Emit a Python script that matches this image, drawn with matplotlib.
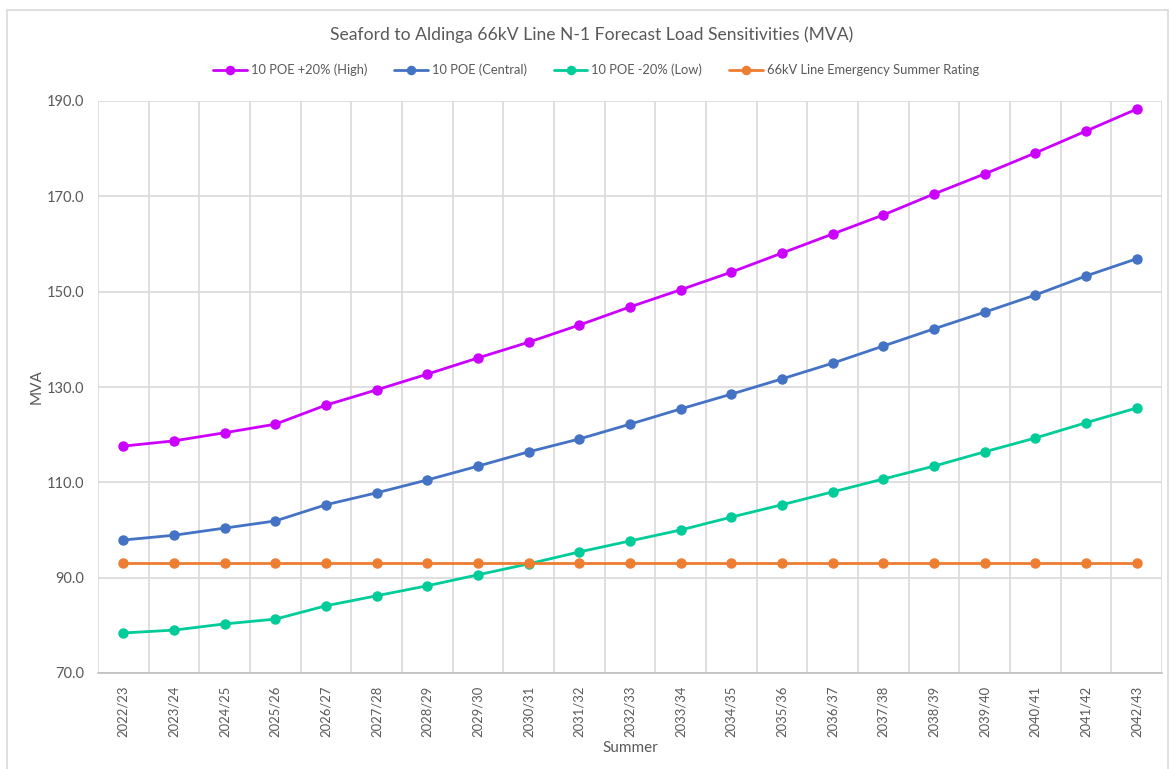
import matplotlib
matplotlib.use("Agg")
import matplotlib.pyplot as plt
from matplotlib.patches import Rectangle
from matplotlib.ticker import FixedLocator

plt.rcParams['font.family'] = ['Lato', 'DejaVu Sans']

summers = ["2022/23", "2023/24", "2024/25", "2025/26", "2026/27", "2027/28",
           "2028/29", "2029/30", "2030/31", "2031/32", "2032/33", "2033/34",
           "2034/35", "2035/36", "2036/37", "2037/38", "2038/39", "2039/40",
           "2040/41", "2041/42", "2042/43"]

high = [117.6, 118.7, 120.4, 122.2, 126.2, 129.4, 132.7, 136.1, 139.4, 143.0,
        146.8, 150.4, 154.1, 158.1, 162.1, 166.1, 170.5, 174.7, 179.1, 183.7,
        188.3]
central = [97.9, 98.9, 100.4, 101.9, 105.3, 107.8, 110.5, 113.4, 116.4, 119.1,
           122.2, 125.4, 128.5, 131.7, 135.0, 138.6, 142.2, 145.7, 149.3, 153.3,
           156.9]
low = [78.4, 79.0, 80.3, 81.3, 84.1, 86.2, 88.3, 90.6, 92.9, 95.4, 97.7,
       100.0, 102.7, 105.3, 108.0, 110.7, 113.4, 116.4, 119.3, 122.5, 125.6]
rating = [93.0] * len(summers)

y_ticks = [70, 90, 110, 130, 150, 170, 190]

series_names = ["10 POE +20% (High)", "10 POE (Central)", "10 POE -20% (Low)",
                "66kV Line Emergency Summer Rating"]
series_colors = ["#CC00FF", "#4472C4", "#00CC99", "#ED7D31"]

text_color = "#595959"
grid_color = "#D9D9D9"

fig = plt.figure(figsize=(11.7, 7.69), dpi=100)

# chart-area frame
fig.patches.append(Rectangle((7 / 1170, -0.1), (1168 - 7) / 1170, 1.1 - 10 / 769,
                             transform=fig.transFigure, fill=False,
                             edgecolor=grid_color, linewidth=1.2, zorder=0))

ax = fig.add_axes([98 / 1170, 1 - 673 / 769, (1162 - 98) / 1170, (673 - 101) / 769])

x = list(range(len(summers)))
for vals, name, col in zip([high, central, low, rating], series_names, series_colors):
    ax.plot(x, vals, color=col, linewidth=2.0, marker="o", markersize=6.5,
            label=name, solid_capstyle="round", zorder=3)

ax.set_xlim(-0.5, len(summers) - 0.5)
ax.set_ylim(70, 190)
ax.set_yticks(y_ticks)
ax.set_yticklabels([f"{v:.1f}" for v in y_ticks])

ax.set_xticks(x)
ax.set_xticklabels(summers, rotation=90)
ax.xaxis.set_minor_locator(FixedLocator([i - 0.5 for i in range(len(summers) + 1)]))

ax.grid(False)
ax.grid(axis="y", which="major", color=grid_color, linewidth=1.2)
ax.grid(axis="x", which="minor", color=grid_color, linewidth=1.2)
ax.set_axisbelow(True)

for side in ["top", "right", "left"]:
    ax.spines[side].set_visible(False)
ax.spines["bottom"].set_color("#BFBFBF")
ax.spines["bottom"].set_linewidth(1.2)

ax.tick_params(axis="both", which="both", length=0, colors=text_color)
ax.tick_params(axis="x", pad=9, labelsize=9.4)
ax.tick_params(axis="y", pad=10, labelsize=10.5)

ax.set_ylabel("MVA", color=text_color, fontsize=11, labelpad=2)
fig.text(630 / 1170, 1 - 748 / 769, "Summer", ha="center", va="center",
         color=text_color, fontsize=11)

fig.text(592 / 1170, 1 - 35 / 769,
         "Seaford to Aldinga 66kV Line N-1 Forecast Load Sensitivities (MVA)",
         ha="center", va="center", color=text_color, fontsize=12.6)

fig.legend(loc="center", bbox_to_anchor=(596 / 1170, 1 - 70 / 769), ncol=4,
           frameon=False, fontsize=9.3, labelcolor=text_color,
           handlelength=2.6, handletextpad=0.3, columnspacing=2.1,
           markerscale=0.9)

fig.savefig("out.png", dpi=100, facecolor="white")
